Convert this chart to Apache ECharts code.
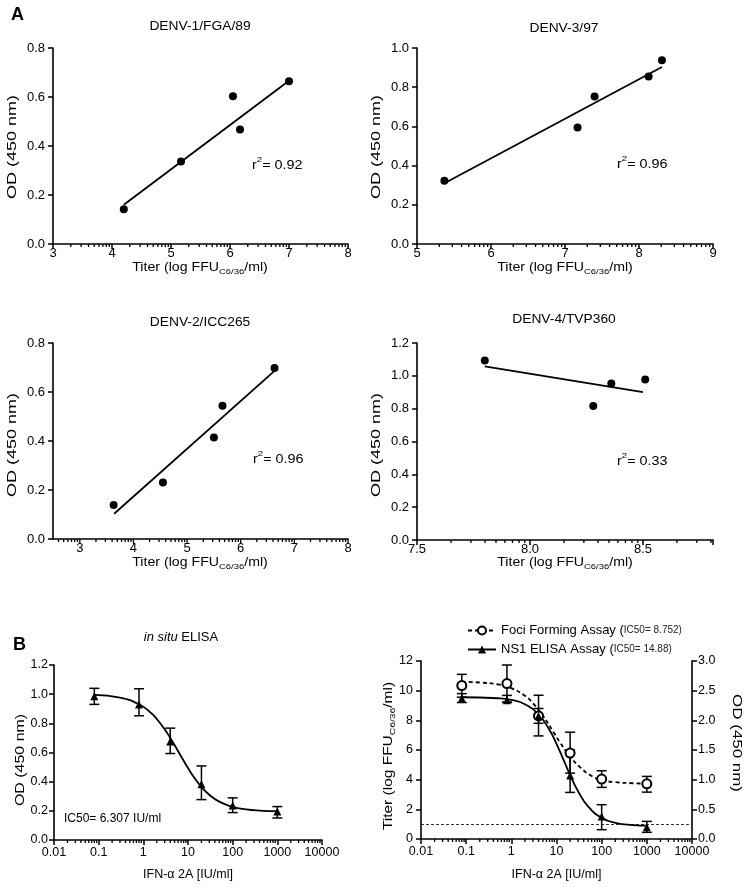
<!DOCTYPE html>
<html><head><meta charset="utf-8">
<script src="https://cdn.jsdelivr.net/npm/echarts@6/dist/echarts.min.js"></script>
<style>html,body{margin:0;padding:0;background:#fff}#c{width:747px;height:887px}</style>
</head><body><div id="c"></div><script>
const FONT = "'Liberation Sans', Arial, sans-serif";

// ---------- Panel A data ----------
const a1Titer = [4.20, 5.17, 6.05, 6.17, 7.00];
const a1OD    = [0.142, 0.337, 0.603, 0.467, 0.664];
const a1FitX  = [4.20, 7.00];
const a1FitY  = [0.160, 0.666];

const a2Titer = [5.37, 7.17, 7.40, 8.13, 8.31];
const a2OD    = [0.323, 0.594, 0.753, 0.854, 0.937];
const a2FitX  = [5.37, 8.31];
const a2FitY  = [0.310, 0.903];

const a3Titer = [3.63, 4.55, 5.50, 5.66, 6.63];
const a3OD    = [0.139, 0.231, 0.414, 0.544, 0.698];
const a3FitX  = [3.64, 6.62];
const a3FitY  = [0.103, 0.684];

const a4Titer = [7.80, 8.28, 8.36, 8.51];
const a4OD    = [1.094, 0.816, 0.954, 0.978];
const a4FitX  = [7.80, 8.50];
const a4FitY  = [1.058, 0.901];

const aTitles = ['DENV-1/FGA/89', 'DENV-3/97', 'DENV-2/ICC265', 'DENV-4/TVP360'];
const aR2 = ['0.92', '0.96', '0.96', '0.33'];
const odTitle = 'OD (450 nm)';
const titerTitle = 'Titer (log FFU{sub|C6/36}/ml)';
const ifnTitle = 'IFN-α 2A [IU/ml]';

// ---------- Panel B data ----------
const ifnDose = [0.08, 0.8, 4, 20, 100, 1000];
const ifnTickLabels = ['0.01', '0.1', '1', '10', '100', '1000', '10000'];

const b1OD   = [0.985, 0.930, 0.676, 0.382, 0.236, 0.195];
const b1Lo   = [0.930, 0.852, 0.593, 0.277, 0.188, 0.151];
const b1Hi   = [1.040, 1.037, 0.767, 0.508, 0.289, 0.229];
const b1CurveX = [0.08, 0.3, 0.8, 1.5, 2, 3, 4, 5, 6.3, 8, 10, 14, 20, 30, 50, 100, 200, 400, 1000];
const b1CurveY = [0.995, 0.976, 0.931, 0.870, 0.830, 0.760, 0.700, 0.651, 0.598, 0.543, 0.493, 0.425, 0.364, 0.310, 0.263, 0.227, 0.210, 0.202, 0.198];

const fociTiter = [10.34, 10.48, 8.30, 5.79, 4.04, 3.72];
const fociLo    = [9.56, 9.23, 6.95, 4.44, 3.48, 3.16];
const fociHi    = [11.10, 11.73, 9.69, 7.20, 4.60, 4.22];
const fociCurveX = [0.08, 0.2, 0.5, 1, 2, 3, 5, 8.75, 12, 20, 35, 60, 100, 200, 500, 1000];
const fociCurveY = [10.60, 10.55, 10.42, 10.17, 9.65, 9.16, 8.31, 7.16, 6.50, 5.55, 4.78, 4.25, 3.98, 3.83, 3.76, 3.73];

const ns1OD = [2.37, 2.34, 2.075, 1.07, 0.381, 0.196];
const ns1Lo = [2.30, 2.30, 1.95, 0.785, 0.157, 0.112];
const ns1Hi = [2.45, 2.42, 2.20, 1.50, 0.578, 0.297];
const ns1CurveX = [0.08, 0.5, 1, 2, 4, 7, 10, 14.88, 20, 30, 50, 100, 200, 500, 1000];
const ns1CurveY = [2.389, 2.372, 2.344, 2.271, 2.099, 1.836, 1.603, 1.305, 1.080, 0.805, 0.549, 0.356, 0.273, 0.235, 0.225];

const detectionLimit = 1;
const legendNames = ['Foci Forming Assay', 'NS1 ELISA Assay'];
const legendIC50 = ['8.752', '14.88'];

// ---------- helpers ----------
const zip = (a, b) => a.map((v, i) => [v, b[i]]);
const zip4 = (x, y, lo, hi) => x.map((v, i) => [v, y[i], lo[i], hi[i]]);
const BLACK = '#000';

function minorLinear(min, max, step) {
  const out = [];
  for (let b = Math.floor(min / step) * step; b < max; b += step) {
    for (let k = 2; k <= 9; k++) {
      const v = b + step * Math.log10(k);
      if (v > min + 1e-9 && v < max - 1e-9) out.push([v, 0]);
    }
  }
  return out;
}
function minorLog(minExp, maxExp) {
  const out = [];
  for (let n = minExp; n < maxExp; n++) for (let k = 2; k <= 9; k++) out.push([k * Math.pow(10, n), 0]);
  return out;
}
function tickSeries(xi, yi, data, len) {
  return {
    type: 'custom', xAxisIndex: xi, yAxisIndex: yi, silent: true, z: 5, clip: false,
    data: data,
    renderItem: (p, api) => {
      const pt = api.coord([api.value(0), api.value(1)]);
      return { type: 'line', shape: { x1: pt[0], y1: pt[1], x2: pt[0], y2: pt[1] + len },
        style: { stroke: BLACK, lineWidth: 1.3 } };
    }
  };
}
function errSeries(xi, yi, data, w) {
  return {
    type: 'custom', xAxisIndex: xi, yAxisIndex: yi, silent: true, z: 3, clip: false,
    data: data,
    renderItem: (p, api) => {
      const x = api.value(0);
      const a = api.coord([x, api.value(3)]);
      const b = api.coord([x, api.value(2)]);
      const st = { stroke: BLACK, lineWidth: 1.5 };
      return { type: 'group', children: [
        { type: 'line', shape: { x1: a[0], y1: a[1], x2: b[0], y2: b[1] }, style: st },
        { type: 'line', shape: { x1: a[0] - w, y1: a[1], x2: a[0] + w, y2: a[1] }, style: st },
        { type: 'line', shape: { x1: b[0] - w, y1: b[1], x2: b[0] + w, y2: b[1] }, style: st }
      ]};
    }
  };
}
const labelStyle = (margin, sz) => ({ color: BLACK, fontFamily: FONT, fontSize: sz || 13, margin: margin });
const axLine = { show: true, onZero: false, lineStyle: { color: BLACK, width: 1.6 } };
const axTick = { show: true, length: 5, lineStyle: { color: BLACK, width: 1.5 } };

function aX(gi, min, max, interval, fmt, showTick) {
  return { type: 'value', gridIndex: gi, min: min, max: max, interval: interval,
    axisLine: axLine, axisTick: showTick ? axTick : { show: false }, splitLine: { show: false },
    axisLabel: Object.assign(labelStyle(3), { formatter: fmt }) };
}
function aY(gi, max, margin, sz) {
  return { type: 'value', gridIndex: gi, min: 0, max: max, interval: 0.2,
    axisLine: axLine, axisTick: axTick, splitLine: { show: false },
    axisLabel: Object.assign(labelStyle(margin || 8, sz), { formatter: v => v.toFixed(1) }) };
}
const intFmt = v => (Math.abs(v - Math.round(v)) < 1e-6 ? String(Math.round(v)) : '');
const halfFmt = v => (Math.abs(v * 2 - Math.round(v * 2)) < 1e-6 ? v.toFixed(1) : '');
const logFmt = v => ifnTickLabels[Math.round(Math.log10(v)) + 2];

function scatterA(xi, x, y) {
  return { type: 'scatter', xAxisIndex: xi, yAxisIndex: xi, data: zip(x, y), symbol: 'circle',
    symbolSize: 8, itemStyle: { color: BLACK, opacity: 1 }, z: 4, silent: true };
}
function fitA(xi, x, y) {
  return { type: 'line', xAxisIndex: xi, yAxisIndex: xi, data: zip(x, y), symbol: 'none',
    lineStyle: { color: BLACK, width: 1.8 }, z: 3, silent: true };
}

const grids = [
  { left: 53, top: 48, width: 295, height: 196 },
  { left: 417, top: 48, width: 296, height: 196 },
  { left: 53, top: 343, width: 295, height: 196 },
  { left: 417, top: 343, width: 296, height: 197 },
  { left: 54, top: 665, width: 268, height: 175 },
  { left: 421, top: 661, width: 271, height: 178 }
];

const logX = (gi, gap) => ({ type: 'log', logBase: 10, gridIndex: gi, min: 0.01, max: 10000, splitNumber: 6,
  axisLine: axLine, axisTick: axTick, splitLine: { show: false }, minorTick: { show: false },
  axisLabel: Object.assign(labelStyle(6, 12.5), { formatter: logFmt }),
  name: ifnTitle, nameLocation: 'middle', nameGap: gap,
  nameTextStyle: { color: BLACK, fontFamily: FONT, fontSize: 12.5 } });

const xAxes = [
  aX(0, 3, 8, 1, intFmt, true),
  aX(1, 5, 9, 1, intFmt, true),
  aX(2, 2.5, 8, 0.5, intFmt, false),
  aX(3, 7.5, 8.81, 0.5, halfFmt, true),
  logX(4, 28),
  logX(5, 29)
];
const yAxes = [
  aY(0, 0.8), aY(1, 1.0), aY(2, 0.8), aY(3, 1.2), aY(4, 1.2, 6, 12.5),
  { type: 'value', gridIndex: 5, min: 0, max: 12, interval: 2, position: 'left',
    axisLine: axLine, axisTick: axTick, splitLine: { show: false },
    axisLabel: Object.assign(labelStyle(8, 12.5), { formatter: v => String(v) }) },
  { type: 'value', gridIndex: 5, min: 0, max: 3, interval: 0.5, position: 'right',
    axisLine: axLine, axisTick: axTick, splitLine: { show: false },
    axisLabel: Object.assign(labelStyle(6, 12.5), { formatter: v => v.toFixed(1) }) }
];

const series = [
  // panel A
  fitA(0, a1FitX, a1FitY), scatterA(0, a1Titer, a1OD), tickSeries(0, 0, minorLinear(3, 8, 1), 3),
  fitA(1, a2FitX, a2FitY), scatterA(1, a2Titer, a2OD), tickSeries(1, 1, minorLinear(5, 9, 1), 3),
  fitA(2, a3FitX, a3FitY), scatterA(2, a3Titer, a3OD), tickSeries(2, 2, minorLinear(2.5, 8, 1), 3),
  tickSeries(2, 2, [3, 4, 5, 6, 7, 8].map(v => [v, 0]), 5),
  fitA(3, a4FitX, a4FitY), scatterA(3, a4Titer, a4OD), tickSeries(3, 3, minorLinear(7.5, 8.81, 0.5), 3),
  // panel B1
  errSeries(4, 4, zip4(ifnDose, b1OD, b1Lo, b1Hi), 5),
  { type: 'line', xAxisIndex: 4, yAxisIndex: 4, data: zip(b1CurveX, b1CurveY), smooth: true, symbol: 'none',
    lineStyle: { color: BLACK, width: 1.8 }, silent: true },
  { type: 'scatter', xAxisIndex: 4, yAxisIndex: 4, data: zip(ifnDose, b1OD), symbol: 'triangle', symbolSize: 8,
    itemStyle: { color: BLACK, opacity: 1 }, z: 4, silent: true },
  tickSeries(4, 4, minorLog(-2, 4), 3),
  // panel B2
  errSeries(5, 6, zip4(ifnDose, ns1OD, ns1Lo, ns1Hi), 5),
  errSeries(5, 5, zip4(ifnDose, fociTiter, fociLo, fociHi), 5),
  { name: legendNames[0], type: 'line', xAxisIndex: 5, yAxisIndex: 5, data: zip(fociCurveX, fociCurveY), smooth: true,
    symbol: 'emptyCircle', showSymbol: false, itemStyle: { color: BLACK },
    lineStyle: { color: BLACK, width: 1.8, type: [4, 3] }, silent: true,
    markLine: { silent: true, symbol: 'none', label: { show: false },
      lineStyle: { color: BLACK, width: 0.8, type: [3, 2] }, data: [{ yAxis: detectionLimit }] } },
  { name: legendNames[1], type: 'line', xAxisIndex: 5, yAxisIndex: 6, data: zip(ns1CurveX, ns1CurveY), smooth: true,
    symbol: 'triangle', showSymbol: false, itemStyle: { color: BLACK },
    lineStyle: { color: BLACK, width: 1.8 }, silent: true },
  { type: 'scatter', xAxisIndex: 5, yAxisIndex: 5, data: zip(ifnDose, fociTiter), symbol: 'circle', symbolSize: 9,
    itemStyle: { color: '#fff', borderColor: BLACK, borderWidth: 2, opacity: 1 }, z: 4, silent: true },
  { type: 'scatter', xAxisIndex: 5, yAxisIndex: 6, data: zip(ifnDose, ns1OD), symbol: 'triangle', symbolSize: 8,
    itemStyle: { color: BLACK, opacity: 1 }, z: 5, silent: true },
  tickSeries(5, 5, minorLog(-2, 4), 3)
];

// text element: centred (or left) text, optionally stretched along its length and rotated
function txt(x, y, text, opts, sx, rot) {
  return { type: 'text', x: x, y: y, silent: true, scaleX: sx || 1, rotation: rot || 0,
    style: Object.assign({ text: text, fill: BLACK, fontFamily: FONT, fontSize: 12,
      textAlign: 'center', align: 'center', textVerticalAlign: 'middle', verticalAlign: 'middle' }, opts || {}) };
}
const richBase = { fontFamily: FONT, color: BLACK };
const subOpts = { lineHeight: 16, rich: { sub: Object.assign({ fontSize: 8, lineHeight: 8, verticalAlign: 'bottom' }, richBase) } };
const r2Opts = { textAlign: 'left', align: 'left', rich: {
  a: Object.assign({ fontSize: 12, lineHeight: 20 }, richBase),
  s: Object.assign({ fontSize: 8, lineHeight: 8, verticalAlign: 'top' }, richBase) } };

const r2Pos = [[252, 166], [617, 165], [253, 460], [617, 462]];
const titlePos = [[200, 27], [564, 29], [200, 323], [564, 320]];
const xTitlePos = [[200, 268], [565, 268], [200, 563], [565, 563]];
const yTitlePos = [[13, 147], [377, 147], [13, 445], [377, 445]];
const R90 = Math.PI / 2;

const graphics = [
  txt(11, 15, 'A', { fontSize: 18, fontWeight: 'bold', textAlign: 'left', align: 'left' }),
  txt(13, 645, 'B', { fontSize: 18, fontWeight: 'bold', textAlign: 'left', align: 'left' }),
  txt(181, 637, '{i|in situ} ELISA', { fontSize: 13, rich: { i: Object.assign({ fontStyle: 'italic', fontSize: 13 }, richBase) } }),
  txt(64, 819, 'IC50= 6.307 IU/ml', { textAlign: 'left', align: 'left' }),
  txt(21, 760, odTitle, {}, 1.33, R90),
  txt(389, 756, titerTitle, subOpts, 1.29, R90),
  txt(736, 743, odTitle, {}, 1.41, -R90)
];
aTitles.forEach((t, i) => graphics.push(txt(titlePos[i][0], titlePos[i][1], t, {}, 1.15)));
aR2.forEach((t, i) => graphics.push(txt(r2Pos[i][0], r2Pos[i][1], '{a|r}{s|2}{a|= ' + t + '}', r2Opts, 1.2)));
xTitlePos.forEach(p => graphics.push(txt(p[0], p[1], titerTitle, subOpts, 1.18)));
yTitlePos.forEach(p => graphics.push(txt(p[0], p[1], odTitle, {}, 1.5, R90)));

const option = {
  backgroundColor: '#fff',
  animation: false,
  textStyle: { fontFamily: FONT },
  grid: grids,
  xAxis: xAxes,
  yAxis: yAxes,
  legend: {
    orient: 'vertical', left: 462, top: 619, itemWidth: 28, itemHeight: 10, itemGap: 6,
    data: legendNames, selectedMode: false,
    formatter: name => name + ' {p|(}{s|IC50= ' + legendIC50[legendNames.indexOf(name)] + ')}',
    textStyle: { color: BLACK, fontFamily: FONT, fontSize: 13,
      rich: { p: { fontSize: 13, fontFamily: FONT, color: BLACK }, s: { fontSize: 10, fontFamily: FONT, color: '#222' } } }
  },
  series: series,
  graphic: graphics
};
const chart = echarts.init(document.getElementById('c'), null, { renderer: 'canvas' });
chart.setOption(option);
</script></body></html>
